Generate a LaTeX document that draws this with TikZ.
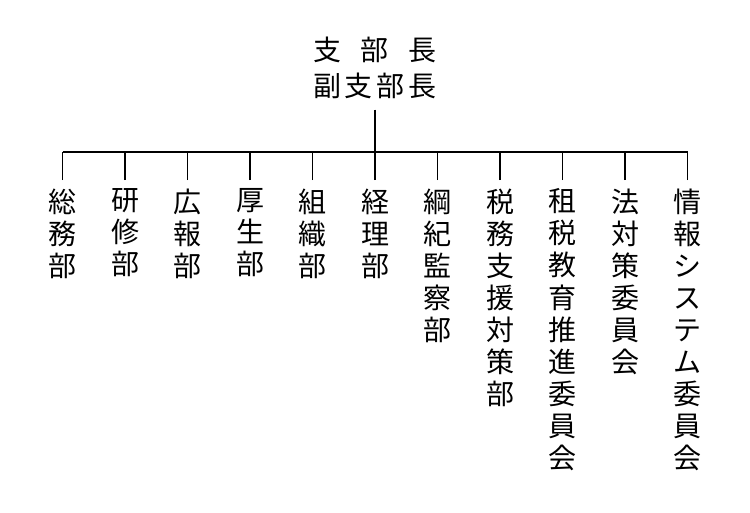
\documentclass[tikz,border=0pt]{standalone}
\usepackage{fontspec}
\newfontfamily\cjk{Noto Sans CJK JP}
\usetikzlibrary{positioning}

\begin{document}
\begin{tikzpicture}[x=1pt,y=-1pt,line width=1.2pt,
    head/.style={font=\cjk\fontsize{28}{36}\selectfont,align=center,inner xsep=4pt,inner ysep=10pt},
    dept/.style={font=\cjk\fontsize{28}{32.1}\selectfont,align=center,anchor=north,inner xsep=0pt,inner ysep=8pt}]

  \useasboundingbox[fill=white] (0,0) rectangle (750,512);

  \node[head] (chief) at (375,68) {\makebox[124pt]{支\hfill 部\hfill 長}\\\makebox[124pt]{副\hfill 支\hfill 部\hfill 長}};
  \coordinate (bus) at (375,152);

  \node[dept] (d_0) at (62.5,180) {総\\務\\部};
  \node[dept] (d_1) at ([xshift=62.5]d_0.north) {研\\修\\部};
  \node[dept] (d_2) at ([xshift=62.5]d_1.north) {広\\報\\部};
  \node[dept] (d_3) at ([xshift=62.5]d_2.north) {厚\\生\\部};
  \node[dept] (d_4) at ([xshift=62.5]d_3.north) {組\\織\\部};
  \node[dept] (d_5) at ([xshift=62.5]d_4.north) {経\\理\\部};
  \node[dept] (d_6) at ([xshift=62.5]d_5.north) {綱\\紀\\監\\察\\部};
  \node[dept] (d_7) at ([xshift=62.5]d_6.north) {税\\務\\支\\援\\対\\策\\部};
  \node[dept] (d_8) at ([xshift=62.5]d_7.north) {租\\税\\教\\育\\推\\進\\委\\員\\会};
  \node[dept] (d_9) at ([xshift=62.5]d_8.north) {法\\対\\策\\委\\員\\会};
  \node[dept] (d_10) at ([xshift=62.5]d_9.north) {情\\報\\シ\\ス\\テ\\ム\\委\\員\\会};

  % tree lines
  \draw (chief.south) -- (bus);
  \draw (d_0.north |- bus) -- (d_10.north |- bus);
  \draw (d_0.north) -- (d_0.north |- bus)
        (d_1.north) -- (d_1.north |- bus)
        (d_2.north) -- (d_2.north |- bus)
        (d_3.north) -- (d_3.north |- bus)
        (d_4.north) -- (d_4.north |- bus)
        (d_5.north) -- (d_5.north |- bus)
        (d_6.north) -- (d_6.north |- bus)
        (d_7.north) -- (d_7.north |- bus)
        (d_8.north) -- (d_8.north |- bus)
        (d_9.north) -- (d_9.north |- bus)
        (d_10.north) -- (d_10.north |- bus);

\end{tikzpicture}
\end{document}
